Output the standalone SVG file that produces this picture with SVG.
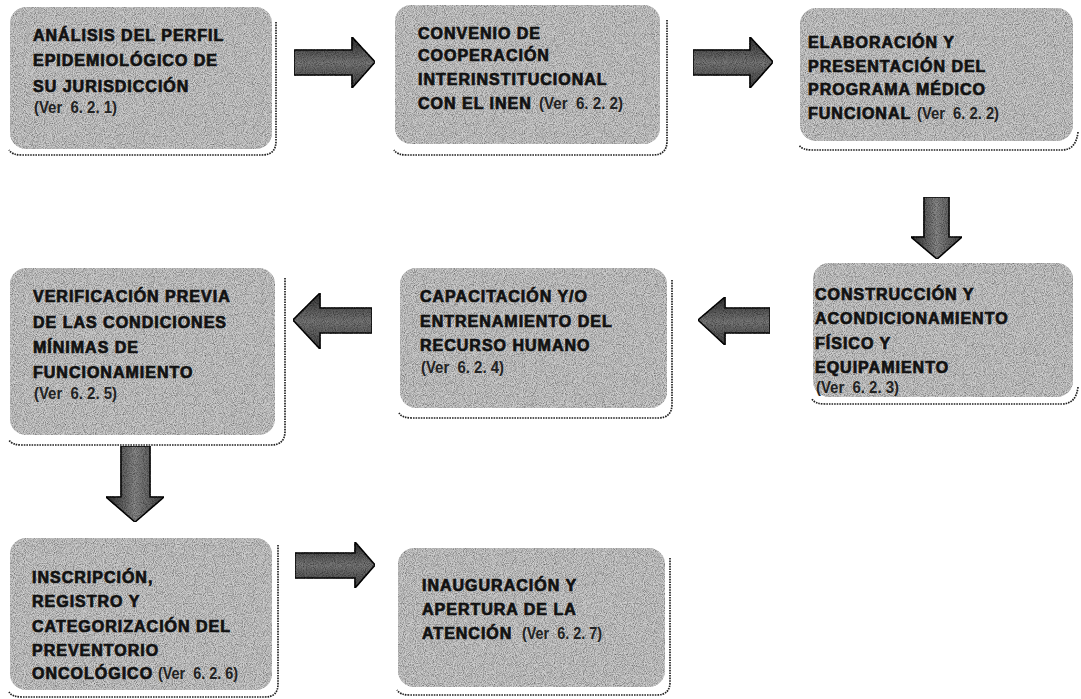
<svg xmlns="http://www.w3.org/2000/svg" width="1081" height="699" viewBox="0 0 1081 699">
<defs>
<filter id="noise" x="0" y="0" width="100%" height="100%">
<feTurbulence type="fractalNoise" baseFrequency="1.1" numOctaves="1" seed="3" result="t"/>
<feColorMatrix in="t" type="matrix" values="0 0 0 0 0  0 0 0 0 0  0 0 0 0 0  1.6 0 0 0 -0.55" result="n"/>
<feComposite in="n" in2="SourceGraphic" operator="in" result="nm"/>
<feMerge><feMergeNode in="SourceGraphic"/><feMergeNode in="nm"/></feMerge>
</filter>
<linearGradient id="ah" x1="0" y1="0" x2="0" y2="1">
<stop offset="0" stop-color="#333"/>
<stop offset="0.5" stop-color="#7a7a7a"/>
<stop offset="1" stop-color="#444"/>
</linearGradient>
<linearGradient id="av" x1="0" y1="0" x2="1" y2="0">
<stop offset="0" stop-color="#333"/>
<stop offset="0.5" stop-color="#8a8a8a"/>
<stop offset="1" stop-color="#444"/>
</linearGradient>
<style>
.box{fill:#cdcdcd;}
.frame{fill:none;stroke:#222;stroke-width:1.7;stroke-dasharray:1.6 1;}
.t{font-family:"Liberation Sans",Arial,sans-serif;font-weight:bold;font-size:16px;letter-spacing:1px;fill:#111;stroke:#111;stroke-width:0.7;}
.v{font-family:"Liberation Sans Narrow","Liberation Sans",Arial,sans-serif;font-weight:bold;font-size:16.5px;fill:#222;stroke:none;}
.arh{fill:url(#ah);stroke:#111;stroke-width:1.6;}
.arv{fill:url(#av);stroke:#111;stroke-width:1.6;}
</style>
</defs>
<rect width="1081" height="699" fill="#fff"/>

<g id="connectors">
<path class="arh" filter="url(#noise)" d="M294 50 L352 50 L352 37 L375 62 L352 88 L352 75 L294 75 Z"/>
<path class="arh" filter="url(#noise)" d="M693 50 L750 50 L750 37 L773 62 L750 88 L750 75 L693 75 Z"/>
<path class="arv" filter="url(#noise)" d="M924 197 L949 197 L949 237 L962 237 L937 259 L911 237 L924 237 Z"/>
<path class="arh" filter="url(#noise)" d="M770 308 L725 308 L725 297 L698 320 L725 345 L725 333 L770 333 Z"/>
<path class="arh" filter="url(#noise)" d="M372 308 L320 308 L320 293 L293 320 L320 349 L320 333 L372 333 Z"/>
<path class="arv" filter="url(#noise)" d="M121 446 L150 446 L150 497 L164 497 L135 522 L106 497 L121 497 Z"/>
<path class="arh" filter="url(#noise)" d="M295 553 L355 553 L355 542 L375 565 L355 588 L355 578 L295 578 Z"/>
</g>

<g id="n1">
<rect class="box" filter="url(#noise)" x="10" y="7" width="262" height="142" rx="16"/>
<path class="frame" d="M276 22 L276 141 Q276 155 262 155 L22 155 Q12 155 9 150"/>
<text class="t" x="33" y="41">ANÁLISIS DEL PERFIL</text>
<text class="t" x="33" y="66">EPIDEMIOLÓGICO DE</text>
<text class="t" x="33" y="92">SU JURISDICCIÓN</text>
<text class="v" x="34" y="113" textLength="83" lengthAdjust="spacingAndGlyphs" xml:space="preserve">(Ver  6. 2. 1)</text>
</g>

<g id="n2">
<rect class="box" filter="url(#noise)" x="395" y="5" width="265" height="139" rx="16"/>
<path class="frame" d="M667 20 L667 141 Q667 155 653 155 L407 155 Q397 155 394 150"/>
<text class="t" x="418" y="39">CONVENIO DE</text>
<text class="t" x="418" y="61">COOPERACIÓN</text>
<text class="t" x="418" y="85">INTERINSTITUCIONAL</text>
<text class="t" x="418" y="109">CON EL INEN</text>
<text class="v" x="539" y="109" textLength="84" lengthAdjust="spacingAndGlyphs" xml:space="preserve">(Ver  6. 2. 2)</text>
</g>

<g id="n3">
<rect class="box" filter="url(#noise)" x="800" y="8" width="273" height="133" rx="16"/>
<path class="frame" d="M1078 132 Q1076 150 1062 150 L812 150 Q802 150 799 145"/>
<text class="t" x="808" y="48">ELABORACIÓN Y</text>
<text class="t" x="808" y="72">PRESENTACIÓN DEL</text>
<text class="t" x="808" y="95">PROGRAMA MÉDICO</text>
<text class="t" x="808" y="119">FUNCIONAL</text>
<text class="v" x="917" y="119" textLength="82" lengthAdjust="spacingAndGlyphs" xml:space="preserve">(Ver  6. 2. 2)</text>
</g>

<g id="n4">
<rect class="box" filter="url(#noise)" x="10" y="268" width="265" height="167" rx="16"/>
<path class="frame" d="M285 278 L285 431 Q285 445 271 445 L22 445 Q12 445 9 440"/>
<text class="t" x="33" y="302">VERIFICACIÓN PREVIA</text>
<text class="t" x="33" y="328">DE LAS CONDICIONES</text>
<text class="t" x="33" y="353">MÍNIMAS DE</text>
<text class="t" x="33" y="378">FUNCIONAMIENTO</text>
<text class="v" x="34" y="399" textLength="83" lengthAdjust="spacingAndGlyphs" xml:space="preserve">(Ver  6. 2. 5)</text>
</g>

<g id="n5">
<rect class="box" filter="url(#noise)" x="400" y="268" width="267" height="140" rx="16"/>
<path class="frame" d="M672 280 L672 404 Q672 418 658 418 L412 418 Q402 418 399 413"/>
<text class="t" x="420" y="302">CAPACITACIÓN Y/O</text>
<text class="t" x="420" y="327">ENTRENAMIENTO DEL</text>
<text class="t" x="420" y="351">RECURSO HUMANO</text>
<text class="v" x="421" y="373" textLength="83" lengthAdjust="spacingAndGlyphs" xml:space="preserve">(Ver  6. 2. 4)</text>
</g>

<g id="n6">
<rect class="box" filter="url(#noise)" x="813" y="263" width="260" height="134" rx="16"/>
<path class="frame" d="M1078 387 Q1076 404 1062 404 L825 404 Q815 404 812 399"/>
<text class="t" x="815" y="300">CONSTRUCCIÓN Y</text>
<text class="t" x="815" y="324">ACONDICIONAMIENTO</text>
<text class="t" x="815" y="349">FÍSICO Y</text>
<text class="t" x="815" y="373">EQUIPAMIENTO</text>
<text class="v" x="816" y="393" textLength="83" lengthAdjust="spacingAndGlyphs" xml:space="preserve">(Ver  6. 2. 3)</text>
</g>

<g id="n7">
<rect class="box" filter="url(#noise)" x="10" y="538" width="262" height="152" rx="16"/>
<path class="frame" d="M278 545 L278 684 Q278 697 265 697 L22 697 Q12 697 9 692"/>
<text class="t" x="32" y="583">INSCRIPCIÓN,</text>
<text class="t" x="32" y="607">REGISTRO Y</text>
<text class="t" x="32" y="632">CATEGORIZACIÓN DEL</text>
<text class="t" x="32" y="656">PREVENTORIO</text>
<text class="t" x="32" y="679">ONCOLÓGICO</text>
<text class="v" x="158" y="679" textLength="80" lengthAdjust="spacingAndGlyphs" xml:space="preserve">(Ver  6. 2. 6)</text>
</g>

<g id="n8">
<rect class="box" filter="url(#noise)" x="398" y="548" width="267" height="139" rx="16"/>
<path class="frame" d="M670 558 L670 682 Q670 695 657 695 L410 695 Q400 695 397 690"/>
<text class="t" x="422" y="591">INAUGURACIÓN Y</text>
<text class="t" x="422" y="615">APERTURA DE LA</text>
<text class="t" x="422" y="639">ATENCIÓN</text>
<text class="v" x="522" y="639" textLength="80" lengthAdjust="spacingAndGlyphs" xml:space="preserve">(Ver  6. 2. 7)</text>
</g>
</svg>
